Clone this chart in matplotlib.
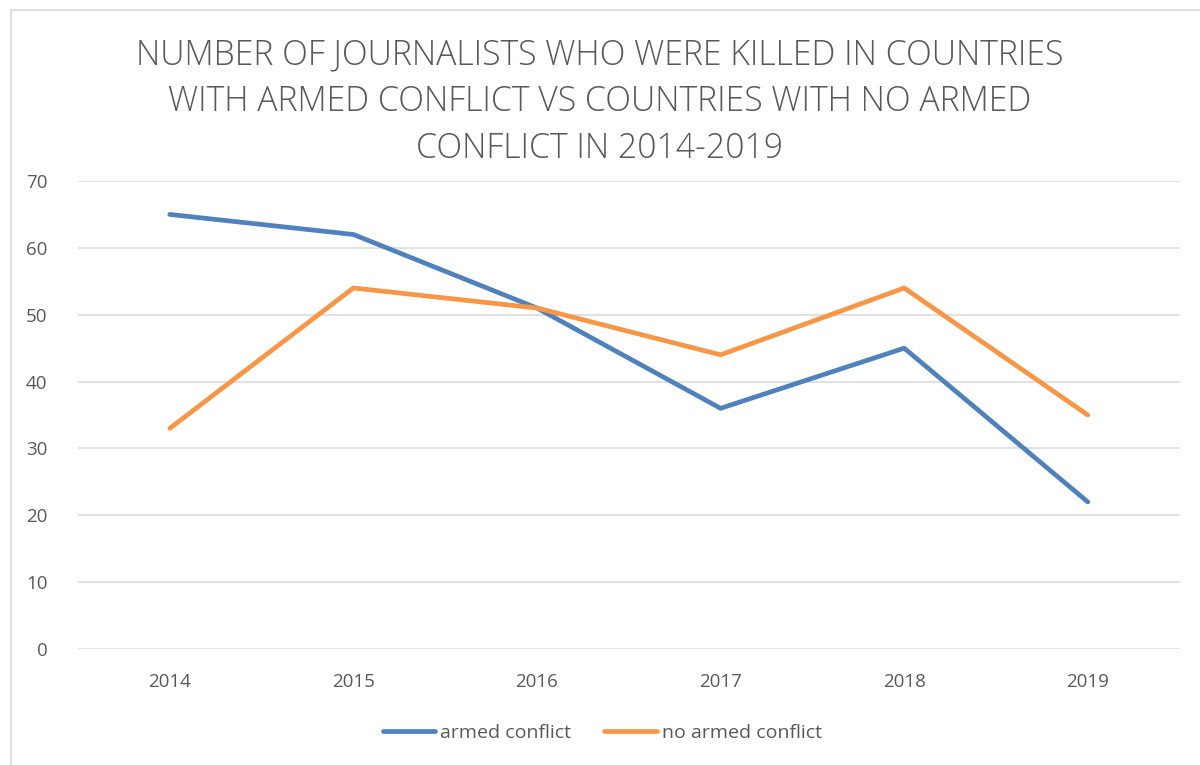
import matplotlib
matplotlib.use("Agg")
import matplotlib.pyplot as plt
from matplotlib.patches import Rectangle

years = ["2014", "2015", "2016", "2017", "2018", "2019"]
armed_conflict = [65, 62, 51, 36, 45, 22]
no_armed_conflict = [33, 54, 51, 44, 54, 35]
yticks = [0, 10, 20, 30, 40, 50, 60, 70]

title = ("NUMBER OF JOURNALISTS WHO WERE KILLED IN COUNTRIES\n"
         "WITH ARMED CONFLICT VS COUNTRIES WITH NO ARMED\n"
         "CONFLICT IN 2014-2019")

plt.rcParams['font.family'] = ['Open Sans', 'DejaVu Sans']
txt = '#595959'

fig = plt.figure(figsize=(12, 7.65), dpi=100)
fig.patches.append(Rectangle((11/1200, -0.01), 1.02, 1 - 10/765 + 0.01, transform=fig.transFigure,
                             fill=False, edgecolor='#D9D9D9', linewidth=1.2))
ax = fig.add_axes([0.065, 0.1516, 0.918, 0.6118])

x = list(range(len(years)))
ax.plot(x, armed_conflict, color='#4F81BD', linewidth=3.4, solid_capstyle='round',
        solid_joinstyle='round', label='armed conflict')
ax.plot(x, no_armed_conflict, color='#F79646', linewidth=3.4, solid_capstyle='round',
        solid_joinstyle='round', label='no armed conflict')

ax.set_xlim(-0.5, len(years) - 0.5)
ax.set_ylim(0, 70)
ax.set_yticks(yticks)
ax.set_xticks(x)
ax.set_xticklabels(years)
ax.grid(axis='y', color='#D9D9D9', linewidth=1.1)
ax.set_axisbelow(True)
for s in ax.spines.values():
    s.set_visible(False)
ax.tick_params(length=0, labelsize=13.5, colors=txt)
ax.tick_params(axis='y', pad=22)
ax.tick_params(axis='x', pad=17)

fig.text(0.5, 1 - 102/765, title, ha='center', va='center', fontsize=24.3, color=txt,
         linespacing=1.45, fontweight='light')

leg = fig.legend(loc='center', bbox_to_anchor=(0.502, 0.042), ncol=2, frameon=False,
                 handlelength=2.7, columnspacing=1.7, handletextpad=0.26,
                 prop={'size': 14})
for t in leg.get_texts():
    t.set_color(txt)

fig.savefig('out.png', dpi=100)
